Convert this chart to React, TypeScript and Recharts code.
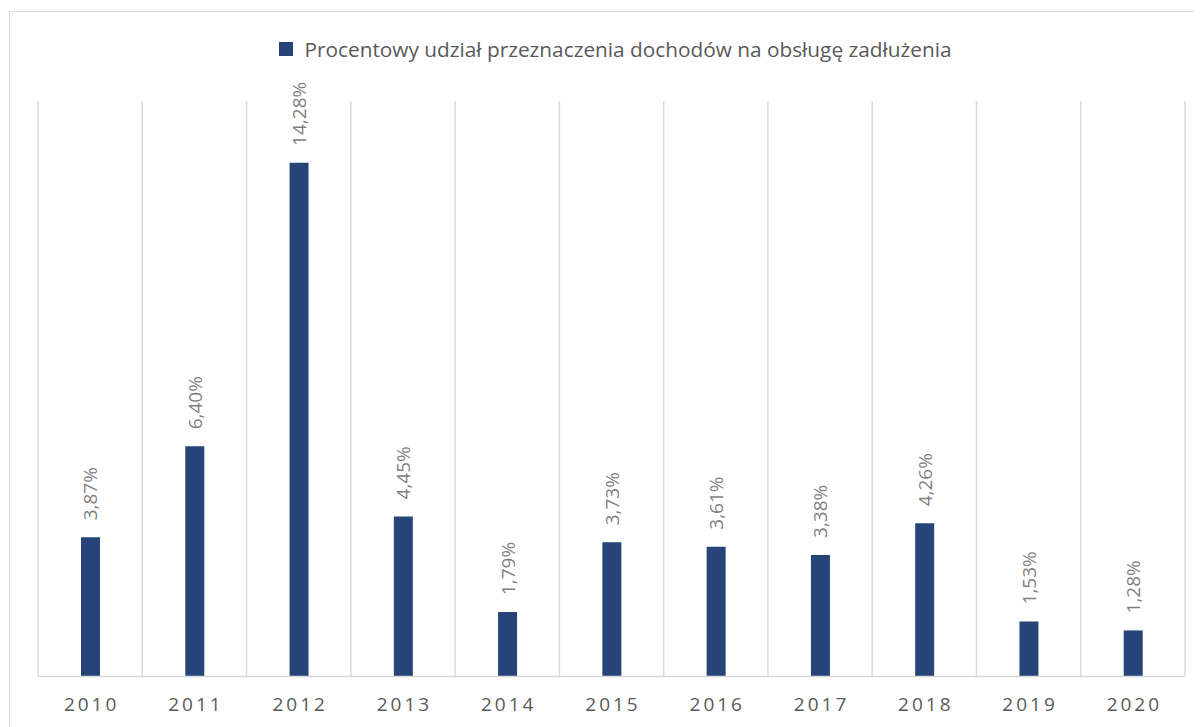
import React from 'react';
import { BarChart, Bar, XAxis, YAxis, CartesianGrid, LabelList } from 'recharts';

const years = ['2010', '2011', '2012', '2013', '2014', '2015', '2016', '2017', '2018', '2019', '2020'];
const shares = [3.87, 6.4, 14.28, 4.45, 1.79, 3.73, 3.61, 3.38, 4.26, 1.53, 1.28];
const seriesName = 'Procentowy udział przeznaczenia dochodów na obsługę zadłużenia';

const data = years.map((year, i) => ({ year, share: shares[i] }));

const FONT = '"Open Sans", sans-serif';
const BAR_COLOR = '#264478';
const GRID = '#d9d9d9';

const fmt = (v: number) => v.toFixed(2).replace('.', ',') + '%';

const YearTick = (props: any) => {
  const { x, y, payload } = props;
  return (
    <text
      x={x + 1.5}
      y={y + 19}
      textAnchor="middle"
      dominantBaseline="central"
      fill="#595959"
      fontFamily={FONT}
      fontSize={19}
      letterSpacing={3}
    >
      {payload.value}
    </text>
  );
};

const ValueLabel = (props: any) => {
  const { x, y, width, value } = props;
  const cx = x + width / 2;
  const ty = y - 17;
  return (
    <text
      x={cx}
      y={ty}
      transform={`rotate(-90 ${cx} ${ty})`}
      textAnchor="start"
      dominantBaseline="central"
      fill="#7f7f7f"
      fontFamily={FONT}
      fontSize={19}
    >
      {fmt(value)}
    </text>
  );
};

export default function App() {
  return (
    <div style={{ width: 1194, height: 719, overflow: 'hidden', position: 'relative', background: '#fff' }}>
      <div
        style={{
          position: 'absolute',
          left: 1,
          top: 3,
          width: 1260,
          height: 760,
          border: `1.5px solid ${GRID}`,
          boxSizing: 'border-box',
        }}
      />
      <div
        style={{
          position: 'absolute',
          left: 10,
          top: 27,
          width: 1194,
          display: 'flex',
          justifyContent: 'center',
          alignItems: 'center',
          fontFamily: FONT,
          fontSize: 20.8,
          color: '#595959',
        }}
      >
        <span style={{ display: 'inline-block', width: 14, height: 14, background: BAR_COLOR, marginRight: 12 }} />
        <span>{seriesName}</span>
      </div>
      <div style={{ position: 'absolute', left: 0, top: 0 }}>
        <BarChart width={1194} height={719} data={data} margin={{ top: 93, right: 17, left: 30, bottom: 10 }}>
          <CartesianGrid
            horizontal={false}
            stroke={GRID}
            strokeWidth={1.5}
            verticalCoordinatesGenerator={({ offset }: any) =>
              Array.from({ length: years.length + 1 }, (_, i) => offset.left + (i * offset.width) / years.length)
            }
          />
          <XAxis
            dataKey="year"
            height={40.5}
            tickLine={false}
            axisLine={{ stroke: GRID, strokeWidth: 1.5 }}
            tick={<YearTick />}
            interval={0}
          />
          <YAxis hide domain={[0, 16]} />
          <Bar dataKey="share" name={seriesName} fill={BAR_COLOR} barSize={19} isAnimationActive={false}>
            <LabelList dataKey="share" content={<ValueLabel />} />
          </Bar>
        </BarChart>
      </div>
    </div>
  );
}
